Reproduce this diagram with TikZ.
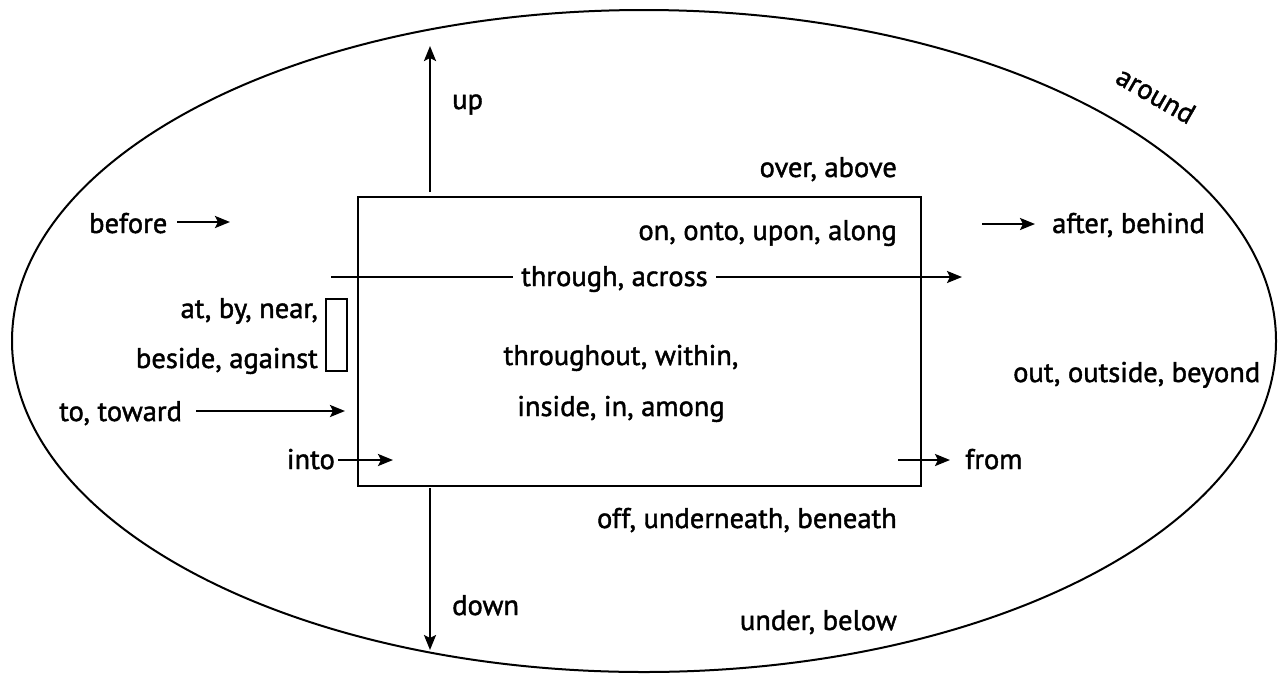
\documentclass[tikz,border=0pt]{standalone}
\usepackage{fontspec}
\setmainfont{PT Sans}[FakeBold=1.5]
\usetikzlibrary{arrows.meta}
\tikzset{
  lbl/.style={inner sep=0pt, font=\fontsize{28.5}{32}\selectfont},
  arr/.style={line width=2.4pt, -{Stealth[length=15pt,width=12pt,inset=3pt]}},
  plain/.style={line width=2.4pt},
}
\begin{document}
\begin{tikzpicture}[x=1pt,y=-1pt]
\useasboundingbox (0,0) rectangle (1281,673);
% outer region
\draw[line width=2pt] (644,341) ellipse [x radius=632, y radius=331];
\node[lbl, rotate=-30] (around) at (1156,95) {around};
% the central box
\node[draw, line width=2.5pt, minimum width=563pt, minimum height=289pt, inner sep=0pt] (box) at (639.5,341.5) {};
% small box at the left edge
\node[draw, line width=1.3pt, minimum width=21pt, minimum height=72pt, inner sep=0pt] (side) at (336.5,335) {};

% labels
\node[lbl, anchor=base west] (up) at (452,109) {up};
\node[lbl, anchor=base west] (down) at (452,615) {down};
\node[lbl, anchor=base east] (over) at (897,177) {over, above};
\node[lbl, anchor=base east] (on) at (897,240) {on, onto, upon, along};
\node[lbl, anchor=base west] (before) at (89,233) {before};
\node[lbl, anchor=base west] (after) at (1052,233) {after, behind};
\node[lbl, anchor=base west] (through) at (521,286) {through, across};
\node[lbl, anchor=base east] (at) at (318,318) {at, by, near,};
\node[lbl, anchor=base east] (beside) at (318,368) {beside, against};
\node[lbl, anchor=base] (throughout) at (621,365) {throughout, within,};
\node[lbl, anchor=base] (inside) at (621,416) {inside, in, among};
\node[lbl, anchor=base west] (out) at (1013,382) {out, outside, beyond};
\node[lbl, anchor=base west] (to) at (59,421) {to, toward};
\node[lbl, anchor=base east] (into) at (335,469) {into};
\node[lbl, anchor=base west] (from) at (965,469) {from};
\node[lbl, anchor=base east] (off) at (897,528) {off, underneath, beneath};
\node[lbl, anchor=base east] (under) at (897,630) {under, below};

% arrow ends
\coordinate (upS) at (430,192);
\coordinate (upE) at (430,46);
\coordinate (dnS) at (430,488);
\coordinate (dnE) at (430,650);
\coordinate (befS) at (177,222);
\coordinate (befE) at (230,222);
\coordinate (aftS) at (982,224);
\coordinate (aftE) at (1035,224);
\coordinate (thrS) at (331,277);
\coordinate (thrA) at (513,277);
\coordinate (thrB) at (716,277);
\coordinate (thrE) at (962,277);
\coordinate (toS) at (196,411);
\coordinate (toE) at (345,411);
\coordinate (inS) at (338,460);
\coordinate (inE) at (393,460);
\coordinate (frS) at (898,460);
\coordinate (frE) at (950,460);

% connectors
\draw[arr] (upS) -- (upE);
\draw[arr] (dnS) -- (dnE);
\draw[arr] (befS) -- (befE);
\draw[arr] (aftS) -- (aftE);
\draw[plain] (thrS) -- (thrA);
\draw[arr] (thrB) -- (thrE);
\draw[arr] (toS) -- (toE);
\draw[arr] (inS) -- (inE);
\draw[arr] (frS) -- (frE);
\end{tikzpicture}
\end{document}
